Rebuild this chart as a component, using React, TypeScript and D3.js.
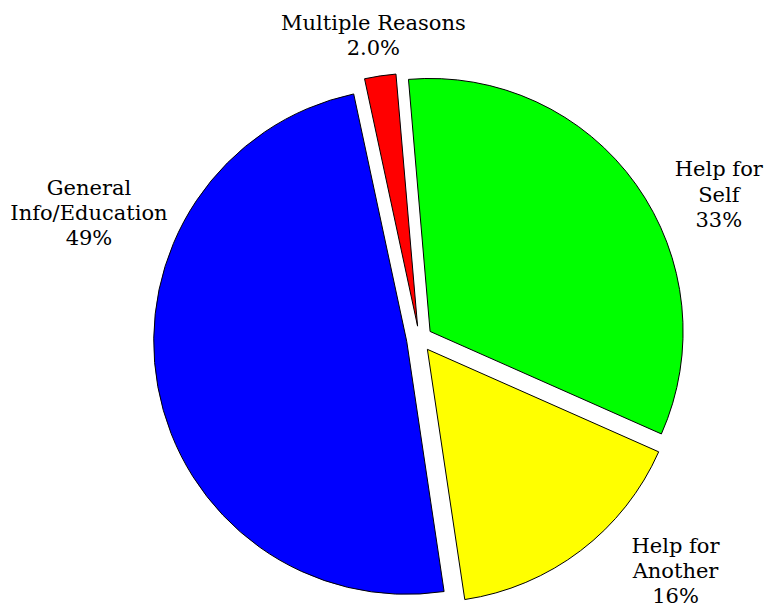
import React from "react";
import * as d3 from "d3";

const categories: string[][] = [
  ["Help for", "Self"],
  ["Help for", "Another"],
  ["General", "Info/Education"],
  ["Multiple Reasons"],
];
const values: number[] = [33, 16, 49, 2.0];
const valueLabels: string[] = ["33%", "16%", "49%", "2.0%"];
const colors: string[] = ["#00ff00", "#ffff00", "#0000ff", "#ff0000"];

// label layout (polar, relative to the pie centre): angle in degrees, radius in px
const labelAngles: number[] = [64.0, 132.0, 291.1, -8.6];
const labelRadii: number[] = [333, 344.5, 354.3, 308.4];

const W = 767;
const H = 607;
const CX = 419.5;
const CY = 339;
const R = 253;
const EXPLODE = 13;
const START_DEG = -4.9;
const FONT_SIZE = 21;
const LINE_H = 25.3;
const FONT = "DejaVu Serif";

export default function App() {
  const start = (START_DEG * Math.PI) / 180;
  const pie = d3
    .pie<number>()
    .sort(null)
    .value((d) => d)
    .startAngle(start)
    .endAngle(start + 2 * Math.PI);
  const arcs = pie(values);
  const arc = d3.arc<d3.PieArcDatum<number>>().innerRadius(0).outerRadius(R);

  return (
    <svg
      width={W}
      height={H}
      viewBox={`0 0 ${W} ${H}`}
      style={{ position: "fixed", left: 0, top: 0, background: "#fff" }}
    >
      <rect x={0} y={0} width={W} height={H} fill="#fff" />
      <g transform={`translate(${CX},${CY})`}>
        {arcs.map((a, i) => {
          const mid = (a.startAngle + a.endAngle) / 2;
          const dx = Math.sin(mid) * EXPLODE;
          const dy = -Math.cos(mid) * EXPLODE;
          return (
            <path
              key={i}
              d={arc(a) || ""}
              transform={`translate(${dx},${dy})`}
              fill={colors[i]}
              stroke="#000"
              strokeWidth={1}
              strokeLinejoin="miter"
            />
          );
        })}
        {arcs.map((a, i) => {
          const ang = (labelAngles[i] * Math.PI) / 180;
          const lx = Math.sin(ang) * labelRadii[i];
          const ly = -Math.cos(ang) * labelRadii[i];
          const lines = [...categories[i], valueLabels[i]];
          const n = lines.length;
          return (
            <text
              key={"t" + i}
              textAnchor="middle"
              fontFamily={FONT}
              fontSize={FONT_SIZE}
              fill="#000"
            >
              {lines.map((ln, j) => (
                <tspan
                  key={j}
                  x={lx}
                  y={ly + (j - (n - 1) / 2) * LINE_H + 8.5}
                >
                  {ln}
                </tspan>
              ))}
            </text>
          );
        })}
      </g>
    </svg>
  );
}
